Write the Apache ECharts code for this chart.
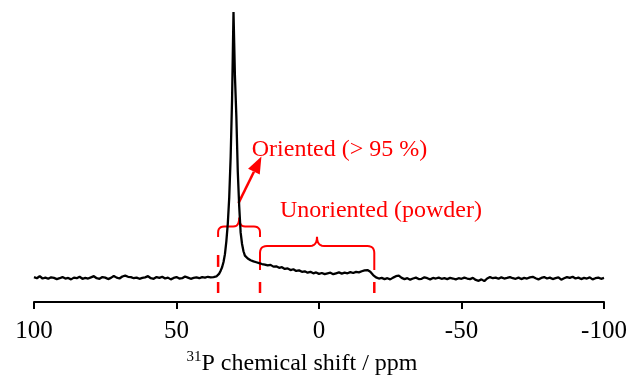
<!DOCTYPE html>
<html>
<head>
<meta charset="utf-8">
<script src="https://cdn.jsdelivr.net/npm/echarts@6/dist/echarts.min.js"></script>
<style>
  html, body { margin: 0; padding: 0; background: #fff; }
  #chart { width: 630px; height: 378px; }
</style>
</head>
<body>
<div id="chart"></div>
<script>
// [ppm, intensity], split in three stretches
const baselineLeft = [
  [100, 8.6], [99, 8.2], [98, 8.9], [97, 8.1], [96, 8.4], [95, 8.0], [94, 8.5], [93, 8.3], [92, 7.9], [91, 8.2],
  [90, 8.6], [89, 8.1], [88, 8.3], [87, 7.8], [86, 8.4], [85, 8.2], [84, 8.7], [83, 8.0], [82, 8.3], [81, 8.1],
  [80, 8.5], [79, 8.9], [78, 8.2], [77, 8.0], [76, 8.6], [75, 8.4], [74, 7.9], [73, 8.3], [72, 9.0], [71, 8.4],
  [70, 8.1], [69, 8.8], [68, 9.1], [67, 8.7], [66, 8.6], [65, 8.2], [64, 8.4], [63, 8.0], [62, 8.3], [61, 8.5],
  [60, 8.9], [59, 8.2], [58, 8.0], [57, 8.6], [56, 8.3], [55, 8.7], [54, 8.1], [53, 8.4], [52, 7.8], [51, 8.3],
  [50, 8.6], [49, 8.1], [48, 8.2], [47, 8.8], [46, 8.4], [45, 8.0], [44, 8.3], [43, 8.5], [42, 8.2], [41, 8.6],
  [40, 8.4], [39, 8.7], [38, 8.5], [37, 8.6], [36, 8.8]
];
const orientedPeak = [
  [35.5, 9.2], [35, 9.8], [34.5, 10.8], [34, 12], [33.5, 13.8], [33, 16.5], [32.5, 21], [32, 27], [31.5, 36],
  [31, 50], [30.5, 70], [30.25, 85], [30, 100], [29.75, 89], [29.5, 78], [29, 64], [28.5, 45], [28, 33],
  [27.5, 24], [27, 20], [26.5, 17.5], [26, 16], [25, 15], [24, 14.4], [23, 14], [22, 13.7], [21, 13.4]
];
const powderTail = [
  [20, 13.1], [19, 12.9], [18, 12.6], [17, 12.8], [16, 12.2], [15, 12.3], [14, 11.8], [13, 12.0], [12, 11.4], [11, 11.6],
  [10, 11.0], [9, 11.3], [8, 10.7], [7, 10.9], [6, 10.4], [5, 10.6], [4, 10.1], [3, 10.4], [2, 9.9], [1, 10.2],
  [0, 9.7], [-1, 10.0], [-2, 9.6], [-3, 9.9], [-4, 10.1], [-5, 9.6], [-6, 9.9], [-7, 10.2], [-8, 9.8], [-9, 10.1],
  [-10, 9.9], [-11, 10.3], [-12, 10.0], [-13, 10.4], [-14, 10.2], [-15, 10.6], [-16, 10.9], [-17, 11.0], [-18, 10.4], [-19, 9.3],
  [-20, 8.5], [-21, 8.1], [-22, 8.3], [-23, 7.9], [-24, 8.2], [-25, 7.8], [-26, 8.4], [-27, 8.9], [-28, 9.1], [-29, 8.3],
  [-30, 7.9], [-31, 8.2], [-32, 7.7], [-33, 8.1], [-34, 8.4], [-35, 7.9], [-36, 8.0], [-37, 8.5], [-38, 8.2], [-39, 7.8],
  [-40, 8.3], [-41, 8.1], [-42, 8.4], [-43, 8.0], [-44, 8.2], [-45, 7.9], [-46, 8.3], [-47, 8.1], [-48, 7.8], [-49, 8.2],
  [-50, 8.0], [-51, 8.4], [-52, 8.1], [-53, 7.9], [-54, 8.3], [-55, 7.6], [-56, 7.3], [-57, 7.8], [-58, 7.2], [-59, 8.1],
  [-60, 8.6], [-61, 8.2], [-62, 8.4], [-63, 8.0], [-64, 8.5], [-65, 8.1], [-66, 8.3], [-67, 8.6], [-68, 8.2], [-69, 8.0],
  [-70, 8.4], [-71, 7.9], [-72, 8.3], [-73, 8.1], [-74, 8.5], [-75, 8.7], [-76, 8.2], [-77, 7.8], [-78, 8.3], [-79, 8.6],
  [-80, 8.1], [-81, 8.4], [-82, 7.9], [-83, 8.2], [-84, 8.5], [-85, 7.7], [-86, 8.2], [-87, 8.6], [-88, 8.3], [-89, 8.7],
  [-90, 8.1], [-91, 8.4], [-92, 7.9], [-93, 8.3], [-94, 8.1], [-95, 8.5], [-96, 7.8], [-97, 8.2], [-98, 8.4], [-99, 8.0],
  [-100, 8.3]
];

// annotation ranges in ppm
const orientedRange = [35.4, 20.7];
const powderRange = [20.7, -19.4];
const orientedLabel = 'Oriented (> 95 %)';
const powderLabel = 'Unoriented (powder)';

const serif = "'Liberation Serif', 'Times New Roman', serif";
const red = '#ff0000';

const chart = echarts.init(document.getElementById('chart'));

chart.setOption({
  animation: false,
  grid: { left: 34, right: 26, top: 12, bottom: 76, outerBoundsMode: 'none' },
  xAxis: {
    type: 'value',
    min: -100,
    max: 100,
    interval: 50,
    inverse: true,
    splitLine: { show: false },
    axisLine: { lineStyle: { color: '#000', width: 2 } },
    axisTick: { length: 7, lineStyle: { color: '#000', width: 2 } },
    axisLabel: { color: '#000', fontFamily: serif, fontSize: 25, margin: 17 },
    name: '{sup|31}P chemical shift / ppm',
    nameLocation: 'middle',
    nameGap: 48,
    nameTextStyle: {
      color: '#000',
      fontFamily: serif,
      fontSize: 24,
      lineHeight: 28,
      padding: [0, 34, 0, 0],
      rich: {
        sup: { fontFamily: serif, fontSize: 15, color: '#000', verticalAlign: 'top', lineHeight: 28 }
      }
    }
  },
  yAxis: { type: 'value', min: 0, max: 100, show: false },
  series: [{
    type: 'line',
    data: baselineLeft.concat(orientedPeak, powderTail),
    showSymbol: false,
    lineStyle: { color: '#000', width: 2.3 }
  }]
});

// annotations: place in data coordinates
const px = (ppm, v) => chart.convertToPixel({ gridIndex: 0 }, [ppm, v]);
const xOf = (ppm) => px(ppm, 0)[0];
const yOf = (v) => px(0, v)[1];

function quad(p0, c, p1, n) {
  const pts = [];
  for (let i = 1; i <= n; i++) {
    const t = i / n;
    pts.push([
      (1 - t) * (1 - t) * p0[0] + 2 * (1 - t) * t * c[0] + t * t * p1[0],
      (1 - t) * (1 - t) * p0[1] + 2 * (1 - t) * t * c[1] + t * t * p1[1]
    ]);
  }
  return pts;
}

function brace(x1, x2, xm, y, yEnd, yTip, r) {
  let pts = [[x1, yEnd], [x1, y + r]];
  pts = pts.concat(quad([x1, y + r], [x1, y], [x1 + r, y], 6));
  pts.push([xm - r, y]);
  pts = pts.concat(quad([xm - r, y], [xm, y], [xm, yTip], 6));
  pts = pts.concat(quad([xm, yTip], [xm, y], [xm + r, y], 6));
  pts.push([x2 - r, y]);
  pts = pts.concat(quad([x2 - r, y], [x2, y], [x2, y + r], 6));
  pts.push([x2, yEnd]);
  return {
    type: 'polyline',
    shape: { points: pts },
    style: { stroke: red, lineWidth: 2, fill: null }
  };
}

function dash(ppm, v1, v2) {
  return {
    type: 'line',
    shape: { x1: xOf(ppm), y1: yOf(v1), x2: xOf(ppm), y2: yOf(v2) },
    style: { stroke: red, lineWidth: 2.5 }
  };
}

const tail = px(28.25, 34.1);
const tip = px(20.2, 50.2);
const dx = tip[0] - tail[0], dy = tip[1] - tail[1];
const len = Math.sqrt(dx * dx + dy * dy);
const ux = dx / len, uy = dy / len;
const headLen = 17, headHalf = 6.5;
const bx = tip[0] - ux * headLen, by = tip[1] - uy * headLen;

chart.setOption({
  graphic: [
    brace(xOf(orientedRange[0]), xOf(orientedRange[1]), xOf(28.0), yOf(26.0), yOf(22.4), yOf(29.1), 6),
    brace(xOf(powderRange[0]), xOf(powderRange[1]), xOf(0.7), yOf(19.3), yOf(11.0), yOf(22.5), 7),
    dash(orientedRange[0], 16.2, 12.1),
    dash(orientedRange[0], 6.9, 3.1),
    dash(orientedRange[1], 6.9, 3.1),
    dash(powderRange[1], 6.9, 3.1),
    {
      type: 'line',
      shape: { x1: tail[0], y1: tail[1], x2: bx, y2: by },
      style: { stroke: red, lineWidth: 2.5 }
    },
    {
      type: 'polygon',
      shape: {
        points: [
          [tip[0], tip[1]],
          [bx - uy * headHalf, by + ux * headHalf],
          [bx + uy * headHalf, by - ux * headHalf]
        ]
      },
      style: { fill: red }
    },
    {
      type: 'text',
      x: xOf(23.6),
      y: yOf(52.4),
      style: { text: orientedLabel, fill: red, font: '24px ' + serif, verticalAlign: 'middle', align: 'left' }
    },
    {
      type: 'text',
      x: xOf(13.7),
      y: yOf(31.4),
      style: { text: powderLabel, fill: red, font: '24px ' + serif, verticalAlign: 'middle', align: 'left' }
    }
  ]
});
</script>
</body>
</html>
